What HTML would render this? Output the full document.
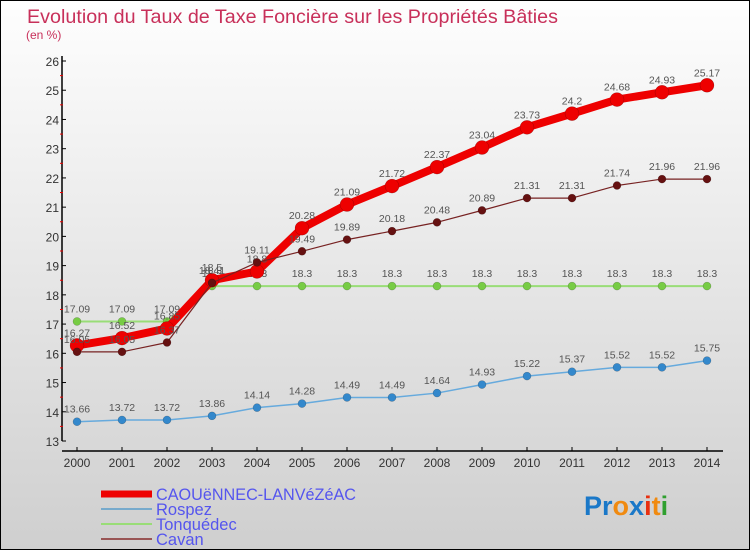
<!DOCTYPE html>
<html><head><meta charset="utf-8"><style>
body{margin:0;}
#wrap{width:748px;height:548px;border:1px solid #000;position:relative;background:linear-gradient(#fefefe,#cfcfcf);font-family:"Liberation Sans",sans-serif;overflow:hidden}
</style></head><body>
<div id="wrap">
<svg id="chart" width="748" height="548" style="position:absolute;left:0;top:0">
<text x="26" y="22" font-size="19" fill="#c8305a" textLength="531" lengthAdjust="spacingAndGlyphs">Evolution du Taux de Taxe Foncière sur les Propriétés Bâties</text>
<text x="25" y="38" font-size="12" fill="#c8305a">(en %)</text>
<g id="axes"></g><g id="series"></g><g id="legend"></g>
<text x="583" y="514" font-size="27" font-weight="bold"><tspan fill="#1a78c8">Pr</tspan><tspan fill="#f08a10">o</tspan><tspan fill="#1a78c8">x</tspan><tspan fill="#e83010">i</tspan><tspan fill="#f08a10">t</tspan><tspan fill="#30a030">i</tspan></text>
</svg>
</div>
<script>
const years=[2000,2001,2002,2003,2004,2005,2006,2007,2008,2009,2010,2011,2012,2013,2014];
const yTicks=[13,14,15,16,17,18,19,20,21,22,23,24,25,26];
const seriesNames=["CAOUëNNEC-LANVéZéAC","Rospez","Tonquédec","Cavan"];
const mainVals=[16.27,16.52,16.85,18.5,18.8,20.28,21.09,21.72,22.37,23.04,23.73,24.2,24.68,24.93,25.17];
const rospezVals=[13.66,13.72,13.72,13.86,14.14,14.28,14.49,14.49,14.64,14.93,15.22,15.37,15.52,15.52,15.75];
const tonqVals=[17.09,17.09,17.09,18.3,18.3,18.3,18.3,18.3,18.3,18.3,18.3,18.3,18.3,18.3,18.3];
const cavanVals=[16.05,16.05,16.37,18.41,19.11,19.49,19.89,20.18,20.48,20.89,21.31,21.31,21.74,21.96,21.96];
const NS="http://www.w3.org/2000/svg";
const X0=76,DX=45,Y13=440,PU=(440-60)/13;
function xs(i){return X0+i*DX;}
function ys(v){return Y13-(v-13)*PU;}
function mk(t,a,p){const e=document.createElementNS(NS,t);for(const k in a)e.setAttribute(k,a[k]);p.appendChild(e);return e;}
const ax=document.getElementById('axes');
let e=mk('line',{x1:61,y1:55,x2:61,y2:440,stroke:'#000','stroke-width':1.5},ax);


e=mk('line',{x1:61,y1:450,x2:722,y2:450,stroke:'#000','stroke-width':1.5},ax);


yTicks.forEach(v=>{
 const y=ys(v);
 mk('line',{x1:61,y1:y,x2:65,y2:y,stroke:'#000'},ax);
 if(v<26)mk('line',{x1:59,y1:ys(v+0.5),x2:62,y2:ys(v+0.5),stroke:'#e00'},ax);
 const t=mk('text',{x:58,y:y+5,'font-size':12,'text-anchor':'end',fill:'#333'},ax);
 t.textContent=v;
 
 
});
years.forEach((yr,i)=>{
 mk('line',{x1:xs(i),y1:446,x2:xs(i),y2:450,stroke:'#000'},ax);
 const t=mk('text',{x:xs(i),y:466,'font-size':12,'text-anchor':'middle',fill:'#333'},ax);
 t.textContent=yr;
 
 
});
const sg=document.getElementById('series');
function draw(vals,color,w,r,fill,name){
 const g=mk('g',{},sg);
 
 
 mk('polyline',{points:vals.map((v,i)=>xs(i)+','+ys(v)).join(' '),fill:'none',stroke:color,'stroke-width':w,'stroke-linejoin':'round'},g);
 vals.forEach((v,i)=>{
  const c=mk('circle',{cx:xs(i),cy:ys(v),r:r,fill:fill,stroke:'rgba(0,0,0,0.3)','stroke-width':0.5},g);
  
  
  const t=mk('text',{x:xs(i),y:ys(v)-9,'font-size':10.5,'text-anchor':'middle',fill:'#555'},g);
  t.textContent=v;
  
  
 });
}
draw(tonqVals,'#99dd77',2,4,'#77cc44','tonquedec-series');
draw(rospezVals,'#66aadd',1.5,4,'#3388cc','rospez-series');
draw(mainVals,'#ee0000',8,7,'#ee0000','caouennec-series');
draw(cavanVals,'#772222',1.2,4,'#661111','cavan-series');
const lg=document.getElementById('legend');
const lcol=['#ee0000','#77aacc','#99dd77','#995555'];
const lw=[7,2,2,2];
seriesNames.forEach((n,i)=>{
 const y=493+i*15;
 const l=mk('line',{x1:100,y1:y,x2:151,y2:y,stroke:lcol[i],'stroke-width':lw[i]},lg);
 
 
 const t=mk('text',{x:155,y:y+6,'font-size':16.5,fill:'#5555ee'},lg);
 t.textContent=n;
 if(i===0){t.setAttribute('textLength','200');t.setAttribute('lengthAdjust','spacingAndGlyphs');}
 
 
});
</script>
</body></html>
